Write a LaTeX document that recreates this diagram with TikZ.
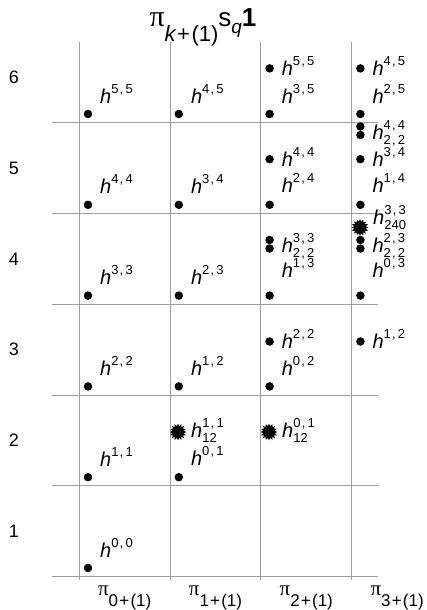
\documentclass[tikz,border=0pt]{standalone}
\usepackage{amsmath}
\usepackage{fontspec}
\setmainfont{Liberation Sans}
\newfontfamily\grk{Liberation Serif}
\usetikzlibrary{shapes.geometric}
\DeclareMathSizes{20}{20}{13}{10}
\newcommand{\pr}[2]{#1\kern1.2pt,\kern2.2pt#2}
\newcommand{\hsup}[2]{$\text{\itshape h}^{\text{\pr{#1}{#2}}}$}
\newcommand{\hsub}[3]{$\text{\itshape h}^{\text{\pr{#1}{#2}}}_{\text{#3}}$}
\newcommand{\plab}[1]{{\grk\fontsize{21}{24}\selectfont π}\raisebox{-11pt}{\fontsize{17}{19}\selectfont #1\kern1.2pt+\kern1.2pt(1)}}
\begin{document}
\begin{tikzpicture}[x=1pt,y=-1pt,
  grid/.style={draw=gray!75,line width=0.9pt},
  dot/.style={circle,fill=black,inner sep=0pt,minimum size=8.5pt},
  burst/.style={star,star points=16,star point ratio=1.45,fill=black,draw=none,inner sep=0pt,minimum size=17pt},
  lab/.style={anchor=base west,inner sep=0pt,font=\fontsize{20}{23}\selectfont},
  rowlab/.style={anchor=center,inner sep=0pt,font=\fontsize{18}{22}\selectfont},
  collab/.style={anchor=base,inner sep=0pt},
]
\useasboundingbox (0,0) rectangle (426,610);
% grid
\foreach \x in {79.3,170.1,260.9,351.7} \draw[grid] (\x,42) -- (\x,580);
\foreach \y in {122.7,213.5,304.3,395.1,485.9,576.7} \draw[grid] (51.7,\y) -- (378,\y);
% title
\node[anchor=base,inner sep=0pt] (title) at (203,27) {{\grk\fontsize{30}{32}\selectfont π}\raisebox{-15pt}{\fontsize{22}{24}\selectfont\itshape k\upshape\kern1.5pt+\kern1.5pt(1)}{\fontsize{26}{28}\selectfont s}\raisebox{-7pt}{\fontsize{19}{21}\selectfont\itshape q}{\fontsize{26}{28}\selectfont\bfseries 1}};
% row labels
\node[rowlab] (r6) at (14,77.3) {6};
\node[rowlab] (r5) at (14,168.1) {5};
\node[rowlab] (r4) at (14,258.9) {4};
\node[rowlab] (r3) at (14,349.7) {3};
\node[rowlab] (r2) at (14,440.5) {2};
\node[rowlab] (r1) at (14,531.3) {1};
% column labels
\node[collab] (c0) at (124.7,595) {\plab{0}};
\node[collab] (c1) at (215.5,595) {\plab{1}};
\node[collab] (c2) at (306.3,595) {\plab{2}};
\node[collab] (c3) at (397.1,595) {\plab{3}};
% row 6
\node[dot] (a6) at (88,114) {};       \node[lab] (la6) at (100,103) {\hsup{5}{5}};
\node[dot] (b6) at (178.8,114) {};    \node[lab] (lb6) at (190.8,103) {\hsup{4}{5}};
\node[dot] (c6) at (269.6,114) {};    \node[lab] (lc6) at (281.6,103) {\hsup{3}{5}};
\node[dot] (c6u) at (269.6,68.4) {};  \node[lab] (lc6u) at (281.6,75.4) {\hsup{5}{5}};
\node[dot] (d6) at (360.4,114) {};    \node[lab] (ld6) at (372.4,103) {\hsup{2}{5}};
\node[dot] (d6u) at (360.4,68.4) {};  \node[lab] (ld6u) at (372.4,75.4) {\hsup{4}{5}};
% row 5
\node[dot] (a5) at (88,204.8) {};     \node[lab] (la5) at (100,193.8) {\hsup{4}{4}};
\node[dot] (b5) at (178.8,204.8) {};  \node[lab] (lb5) at (190.8,193.8) {\hsup{3}{4}};
\node[dot] (c5) at (269.6,204.8) {};  \node[lab] (lc5) at (281.6,192) {\hsup{2}{4}};
\node[dot] (c5u) at (269.6,159.2) {}; \node[lab] (lc5u) at (281.6,166.2) {\hsup{4}{4}};
\node[dot] (d5) at (360.4,204.8) {};  \node[lab] (ld5) at (372.4,192) {\hsup{1}{4}};
\node[dot] (d5u) at (360.4,159.2) {}; \node[lab] (ld5u) at (372.4,166.2) {\hsup{3}{4}};
\node[dot] (d5p) at (360.4,126.5) {};
\node[dot] (d5q) at (360.4,135) {};   \node[lab] (ld5p) at (372.4,139) {\hsub{4}{4}{\pr{2}{2}}};
% row 4
\node[dot] (a4) at (88,295.6) {};     \node[lab] (la4) at (100,284.6) {\hsup{3}{3}};
\node[dot] (b4) at (178.8,295.6) {};  \node[lab] (lb4) at (190.8,284.6) {\hsup{2}{3}};
\node[dot] (c4) at (269.6,295.6) {};  \node[lab] (lc4) at (281.6,277) {\hsup{1}{3}};
\node[dot] (c4p) at (269.6,240) {};
\node[dot] (c4q) at (269.6,248.5) {}; \node[lab] (lc4p) at (281.6,252.2) {\hsub{3}{3}{\pr{2}{2}}};
\node[dot] (d4) at (360.4,295.6) {};  \node[lab] (ld4) at (372.4,277) {\hsup{0}{3}};
\node[dot] (d4p) at (360.4,240) {};
\node[dot] (d4q) at (360.4,248.5) {}; \node[lab] (ld4p) at (372.4,252.2) {\hsub{2}{3}{\pr{2}{2}}};
\node[burst] (d4s) at (360,227.5) {}; \node[lab] (ld4s) at (373,224.5) {\hsub{3}{3}{240}};
% row 3
\node[dot] (a3) at (88,386.4) {};     \node[lab] (la3) at (100,375.4) {\hsup{2}{2}};
\node[dot] (b3) at (178.8,386.4) {};  \node[lab] (lb3) at (190.8,375.4) {\hsup{1}{2}};
\node[dot] (c3) at (269.6,386.4) {};  \node[lab] (lc3) at (281.6,375.4) {\hsup{0}{2}};
\node[dot] (c3u) at (269.6,341.5) {}; \node[lab] (lc3u) at (281.6,348.5) {\hsup{2}{2}};
\node[dot] (d3u) at (360.4,341.5) {}; \node[lab] (ld3u) at (372.4,348.5) {\hsup{1}{2}};
% row 2
\node[dot] (a2) at (88,477.2) {};     \node[lab] (la2) at (100,466.2) {\hsup{1}{1}};
\node[dot] (b2) at (178.8,477.2) {};  \node[lab] (lb2) at (190.8,465) {\hsup{0}{1}};
\node[burst] (b2s) at (178,432) {};   \node[lab] (lb2s) at (191,437) {\hsub{1}{1}{12}};
\node[burst] (c2s) at (269,432) {};   \node[lab] (lc2s) at (282,437) {\hsub{0}{1}{12}};
% row 1
\node[dot] (a1) at (88,568) {};       \node[lab] (la1) at (100,557) {\hsup{0}{0}};
\end{tikzpicture}
\end{document}
